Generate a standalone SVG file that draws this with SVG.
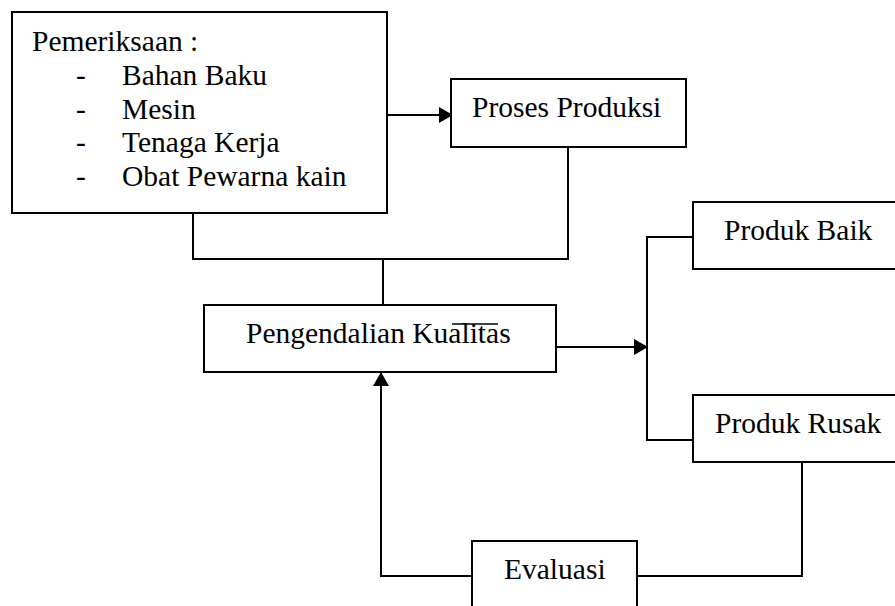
<svg xmlns="http://www.w3.org/2000/svg" width="895" height="606" viewBox="0 0 895 606">
<style>
.box{fill:#fff;stroke:#000;stroke-width:2}
.ln{fill:none;stroke:#000;stroke-width:2}
text{font-family:"Liberation Serif","Times New Roman",serif;font-size:29.5px;fill:#000}
</style>
<defs>
<marker id="ah" markerWidth="14" markerHeight="16" refX="13" refY="8" orient="auto" markerUnits="userSpaceOnUse">
<path d="M0,0 L14,8 L0,16 z" fill="#000"/>
</marker>
</defs>
<rect width="895" height="606" fill="#fff"/>
<g id="connectors">
<line class="ln" x1="385" y1="115" x2="452" y2="115" marker-end="url(#ah)"/>
<polyline class="ln" points="193,213 193,259 568,259 568,147"/>
<line class="ln" x1="383" y1="259" x2="383" y2="305"/>
<line class="ln" x1="556" y1="347" x2="647" y2="347" marker-end="url(#ah)"/>
<polyline class="ln" points="693,237 647,237 647,440 693,440"/>
<line class="ln" x1="381" y1="576" x2="381" y2="373" marker-end="url(#ah)"/>
<line class="ln" x1="380" y1="576" x2="472" y2="576"/>
<polyline class="ln" points="637,576 802,576 802,462"/>
</g>
<g id="pemeriksaan">
<rect class="box" x="12" y="12" width="375" height="201"/>
<text x="32" y="51">Pemeriksaan :</text>
<text x="76" y="85">-</text><text x="122" y="85">Bahan Baku</text>
<text x="76" y="119">-</text><text x="122" y="119">Mesin</text>
<text x="76" y="152">-</text><text x="122" y="152">Tenaga Kerja</text>
<text x="76" y="186">-</text><text x="122" y="186">Obat Pewarna kain</text>
</g>
<g id="proses-produksi">
<rect class="box" x="451" y="79" width="235" height="68"/>
<text x="472" y="117">Proses Produksi</text>
</g>
<g id="pengendalian-kualitas">
<rect class="box" x="204" y="305" width="352" height="67"/>
<text x="246" y="343">Pengendalian Kualitas</text>
<line x1="452" y1="324" x2="498" y2="324" stroke="#000" stroke-width="1.5"/>
</g>
<g id="produk-baik">
<rect class="box" x="693" y="202" width="215" height="67"/>
<text x="724" y="240">Produk Baik</text>
</g>
<g id="produk-rusak">
<rect class="box" x="693" y="395" width="215" height="67"/>
<text x="715" y="433">Produk Rusak</text>
</g>
<g id="evaluasi">
<rect class="box" x="472" y="541" width="165" height="80"/>
<text x="504" y="579">Evaluasi</text>
</g>
</svg>
